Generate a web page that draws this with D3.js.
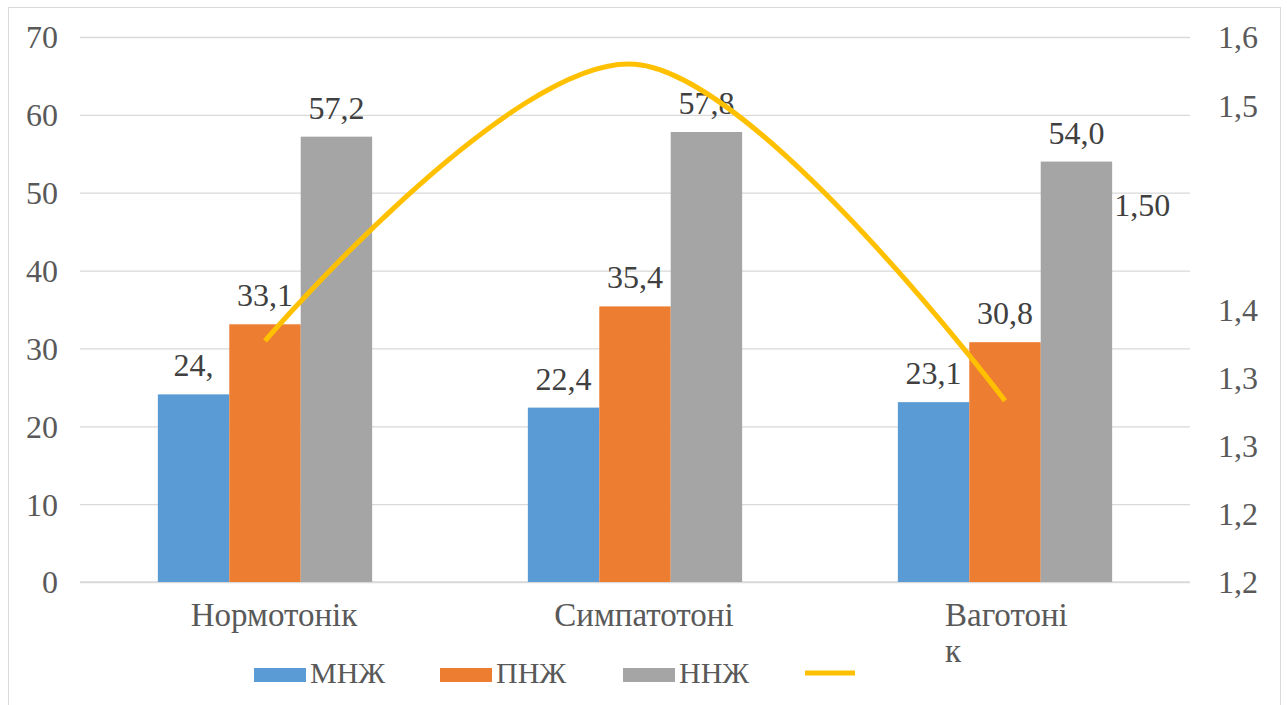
<!DOCTYPE html>
<html>
<head>
<meta charset="utf-8">
<script src="https://cdn.jsdelivr.net/npm/d3@7"></script>
<style>
  html, body { margin: 0; padding: 0; background: #fff; }
  svg text { font-family: "Liberation Serif", Tinos, "Times New Roman", serif !important; }
</style>
</head>
<body>
<svg id="chart" width="1287" height="705"></svg>
<script>
// Categories and series
const categories = ["Нормотонік", "Симпатотоні", "Ваготонік"];
const categoryLines = [["Нормотонік"], ["Симпатотоні"], ["Ваготоні", "к"]];
const seriesNames = ["МНЖ", "ПНЖ", "ННЖ"];
const mnz = [24.1, 22.4, 23.1];
const pnz = [33.1, 35.4, 30.8];
const nnz = [57.2, 57.8, 54.0];
const barLabels = [["24,", "22,4", "23,1"], ["33,1", "35,4", "30,8"], ["57,2", "57,8", "54,0"]];
const ratio = [1.377, 1.580, 1.333];
const ratioLabel = { value: 1.477, text: "1,50" };

// Axis ticks
const leftTicks = [0, 10, 20, 30, 40, 50, 60, 70];
const rightTicks = [1.20, 1.25, 1.30, 1.35, 1.40, 1.45, 1.50, 1.55, 1.60];
const rightTickLabels = ["1,2", "1,2", "1,3", "1,3", "1,4", "", "", "1,5", "1,6"];

const colors = ["#5B9BD5", "#ED7D31", "#A5A5A5"];
const lineColor = "#FFC000";
const SERIF = "Liberation Serif";

const svg = d3.select("#chart");
const plot = { left: 80, right: 1190, top: 37, bottom: 582 };

// chart border
svg.append("rect")
  .attr("x", 8.5).attr("y", 7.5)
  .attr("width", 1272).attr("height", 720)
  .attr("fill", "none").attr("stroke", "#D9D9D9").attr("stroke-width", 1);

const x0 = d3.scaleBand().domain(categories).range([plot.left, plot.right]).paddingInner(0).paddingOuter(0);
const x1 = d3.scaleBand().domain(seriesNames)
  .range([0, x0.bandwidth()]).paddingOuter(1.09).paddingInner(0);
const y = d3.scaleLinear().domain([0, 70]).range([plot.bottom, plot.top]);
const y2 = d3.scaleLinear().domain([1.2, 1.6]).range([plot.bottom, plot.top]);

// gridlines
svg.append("g")
  .attr("transform", `translate(${plot.left},0)`)
  .call(d3.axisLeft(y).tickValues(leftTicks).tickSize(-(plot.right - plot.left)).tickFormat(""))
  .call(g => g.select(".domain").remove())
  .call(g => g.selectAll("line").attr("stroke", "#D9D9D9").attr("stroke-width", 1.3));

// left axis labels
svg.append("g")
  .attr("transform", `translate(${plot.left},0)`)
  .call(d3.axisLeft(y).tickValues(leftTicks).tickSize(0).tickPadding(22).tickFormat(d3.format("d")))
  .call(g => g.select(".domain").remove())
  .call(g => g.attr("font-family", null))
  .call(g => g.selectAll("text").attr("fill", "#595959").attr("font-size", 32).attr("dy", "0.34em")
    .style("font-family", SERIF));

// right axis labels
svg.append("g")
  .attr("transform", `translate(${plot.right},0)`)
  .call(d3.axisRight(y2).tickValues(rightTicks).tickSize(0).tickPadding(28)
    .tickFormat((d, i) => rightTickLabels[i]))
  .call(g => g.select(".domain").remove())
  .call(g => g.attr("font-family", null))
  .call(g => g.selectAll("text").attr("fill", "#595959").attr("font-size", 32).attr("dy", "0.34em")
    .style("font-family", SERIF));

// baseline
svg.append("line")
  .attr("x1", plot.left).attr("x2", plot.right)
  .attr("y1", y(0)).attr("y2", y(0))
  .attr("stroke", "#D9D9D9").attr("stroke-width", 1.3);

// bars
const series = [mnz, pnz, nnz];
series.forEach((vals, si) => {
  const g = svg.append("g");
  g.selectAll("rect").data(vals).join("rect")
    .attr("x", (d, i) => x0(categories[i]) + x1(seriesNames[si]))
    .attr("y", d => y(d))
    .attr("width", x1.bandwidth())
    .attr("height", d => y(0) - y(d))
    .attr("fill", colors[si]);
  g.selectAll("text").data(vals).join("text")
    .attr("x", (d, i) => x0(categories[i]) + x1(seriesNames[si]) + x1.bandwidth() / 2)
    .attr("y", d => y(d) - 18)
    .attr("text-anchor", "middle")
    .attr("font-size", 32)
    .attr("fill", "#404040")
    .style("font-family", SERIF)
    .text((d, i) => barLabels[si][i]);
});

// ratio line (smoothed)
const line = d3.line()
  .x((d, i) => x0(categories[i]) + x0.bandwidth() / 2)
  .y(d => y2(d))
  .curve(d3.curveCatmullRom.alpha(0));
svg.append("path")
  .datum(ratio)
  .attr("d", line)
  .attr("fill", "none")
  .attr("stroke", lineColor)
  .attr("stroke-width", 5);

// ratio data label
svg.append("text")
  .attr("x", x0(categories[2]) + x1(seriesNames[2]) + x1.bandwidth() + 2)
  .attr("y", y2(ratioLabel.value) + 11)
  .attr("font-size", 32)
  .attr("fill", "#404040")
  .style("font-family", SERIF)
  .text(ratioLabel.text);

// category labels
categoryLines.forEach((lines, i) => {
  const cx = x0(categories[i]) + x0.bandwidth() / 2;
  const t = svg.append("text")
    .attr("font-size", 33)
    .attr("fill", "#595959")
    .style("font-family", SERIF)
    .attr("text-anchor", lines.length > 1 ? "start" : "middle");
  lines.forEach((ln, j) => {
    t.append("tspan")
      .attr("x", lines.length > 1 ? cx - 60 : cx + 9)
      .attr("y", 626 + j * 36)
      .text(ln);
  });
});

// legend
const legendItems = [
  { name: "МНЖ", color: colors[0], type: "rect", x: 254 },
  { name: "ПНЖ", color: colors[1], type: "rect", x: 440 },
  { name: "ННЖ", color: colors[2], type: "rect", x: 623 },
  { name: "", color: lineColor, type: "line", x: 805 }
];
const leg = svg.append("g");
legendItems.forEach(it => {
  if (it.type === "rect") {
    leg.append("rect").attr("x", it.x).attr("y", 668).attr("width", 52).attr("height", 14).attr("fill", it.color);
  } else {
    leg.append("line").attr("x1", it.x).attr("x2", it.x + 50).attr("y1", 673).attr("y2", 673)
      .attr("stroke", it.color).attr("stroke-width", 5);
  }
  leg.append("text").attr("x", it.x + 56).attr("y", 683)
    .attr("font-size", 30).attr("fill", "#595959")
    .style("font-family", SERIF).text(it.name);
});
</script>
</body>
</html>
